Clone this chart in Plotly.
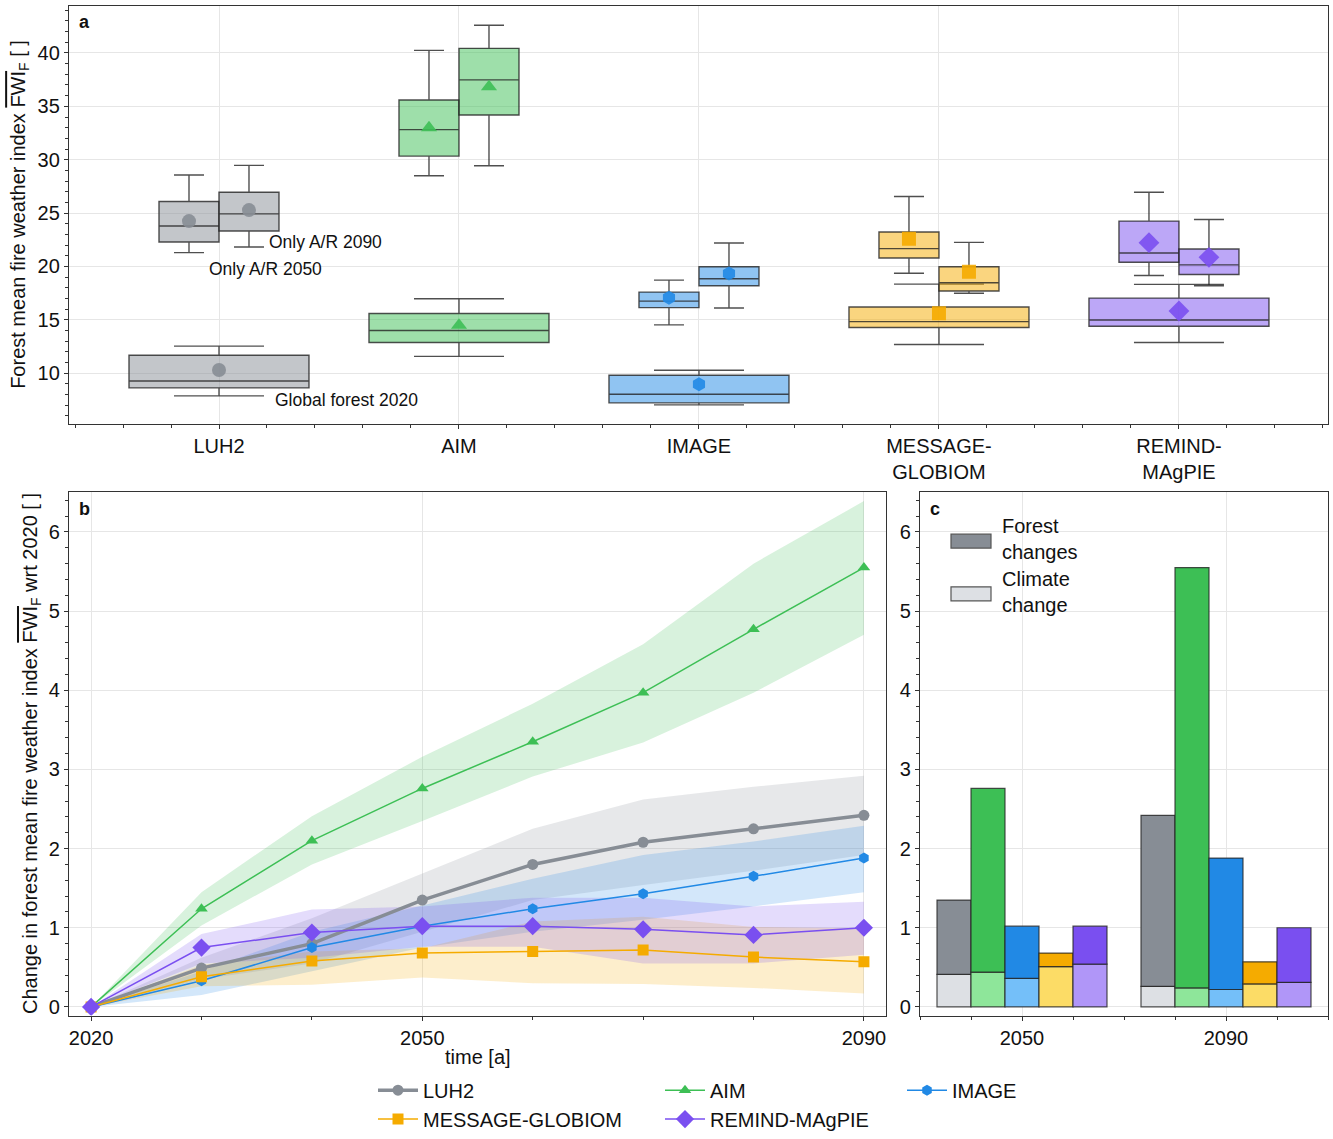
import plotly.graph_objects as go

FONT = "Liberation Sans, Arial, sans-serif"

# ---------------- data ----------------
models = ["LUH2", "AIM", "IMAGE", "MESSAGE-GLOBIOM", "REMIND-MAgPIE"]
model_ticks = ["LUH2", "AIM", "IMAGE", "MESSAGE-<br>GLOBIOM", "REMIND-<br>MAgPIE"]
colors = ["#878d95", "#3dbf55", "#2189e5", "#f5ab00", "#7a4ff0"]
light_colors = ["#dde0e4", "#8ee69a", "#74bff9", "#fcdc66", "#b096f8"]
box_fill = ["rgba(135,141,149,0.5)", "rgba(61,191,85,0.5)", "rgba(33,137,229,0.5)",
            "rgba(245,171,0,0.5)", "rgba(122,79,240,0.5)"]
band_fill = ["rgba(135,141,149,0.2)", "rgba(61,191,85,0.2)", "rgba(33,137,229,0.2)",
             "rgba(245,171,0,0.2)", "rgba(122,79,240,0.2)"]
symbols = ["circle", "triangle-up", "hexagon", "square", "diamond"]

# Panel a: box statistics per scenario (rows) and model (columns)
scenarios = ["Global forest 2020", "Only A/R 2050", "Only A/R 2090"]
lowerfence = [[7.88, 11.58, 7.04, 12.70, 12.88],
              [21.30, 28.50, 14.53, 19.37, 19.16],
              [21.83, 29.43, 16.11, 17.50, 18.20]]
q1 = [[8.63, 12.88, 7.23, 14.28, 14.40],
      [22.30, 30.34, 16.15, 20.80, 20.40],
      [23.32, 34.19, 18.20, 17.70, 19.25]]
median = [[9.28, 14.00, 8.04, 14.84, 14.99],
          [23.79, 32.82, 16.76, 21.67, 21.27],
          [24.93, 37.48, 18.85, 18.48, 20.15]]
q3 = [[11.69, 15.60, 9.81, 16.20, 17.04],
      [26.08, 35.60, 17.60, 23.23, 24.25],
      [26.95, 40.43, 19.97, 19.97, 21.64]]
upperfence = [[12.54, 16.98, 10.28, 18.35, 18.32],
              [28.57, 40.24, 18.72, 26.55, 26.95],
              [29.47, 42.60, 22.20, 22.26, 24.40]]
mean_fwi = [[10.30, 14.50, 8.97, 15.62, 15.83],
            [24.25, 33.00, 17.08, 22.60, 22.23],
            [25.28, 36.83, 19.34, 19.50, 20.86]]

# Panel b: change wrt 2020
years = [2020, 2030, 2040, 2050, 2060, 2070, 2080, 2090]
change_mean = {
    "LUH2": [0, 0.49, 0.80, 1.35, 1.80, 2.08, 2.25, 2.42],
    "AIM": [0, 1.24, 2.10, 2.76, 3.35, 3.97, 4.77, 5.55],
    "IMAGE": [0, 0.33, 0.75, 1.02, 1.24, 1.43, 1.65, 1.88],
    "MESSAGE-GLOBIOM": [0, 0.38, 0.58, 0.68, 0.70, 0.72, 0.63, 0.57],
    "REMIND-MAgPIE": [0, 0.75, 0.94, 1.02, 1.02, 0.98, 0.91, 1.00],
}
change_upper = {
    "LUH2": [0, 0.62, 1.12, 1.69, 2.25, 2.62, 2.78, 2.92],
    "AIM": [0, 1.45, 2.41, 3.16, 3.83, 4.58, 5.60, 6.39],
    "IMAGE": [0, 0.45, 0.95, 1.28, 1.62, 1.92, 2.09, 2.29],
    "MESSAGE-GLOBIOM": [0, 0.53, 0.70, 0.74, 1.08, 1.14, 1.01, 0.99],
    "REMIND-MAgPIE": [0, 0.92, 1.23, 1.27, 1.38, 1.38, 1.27, 1.33],
}
change_lower = {
    "LUH2": [0, 0.35, 0.55, 0.95, 1.35, 1.54, 1.72, 1.92],
    "AIM": [0, 1.03, 1.80, 2.35, 2.91, 3.34, 3.97, 4.70],
    "IMAGE": [0, 0.15, 0.45, 0.75, 0.95, 1.10, 1.27, 1.45],
    "MESSAGE-GLOBIOM": [0, 0.26, 0.28, 0.37, 0.30, 0.29, 0.24, 0.17],
    "REMIND-MAgPIE": [0, 0.55, 0.62, 0.76, 0.76, 0.55, 0.55, 0.66],
}

# Panel c: decomposition (climate-change part; remainder = forest changes)
bar_years = [2050, 2090]
bar_labels = ["2050", "2090"]
climate_part = {
    2050: [0.41, 0.44, 0.36, 0.51, 0.54],
    2090: [0.26, 0.24, 0.22, 0.29, 0.31],
}

# ---------------- figure ----------------
fig = go.Figure()

box_offsets = [0.0, -0.125, 0.125]
box_widths = [0.75, 0.25, 0.25]
edge = "rgba(35,35,35,0.8)"

for s in range(3):
    for i, m in enumerate(models):
        fig.add_trace(go.Box(
            x=[i + box_offsets[s]], q1=[q1[s][i]], median=[median[s][i]], q3=[q3[s][i]],
            lowerfence=[lowerfence[s][i]], upperfence=[upperfence[s][i]],
            orientation="v", width=box_widths[s], whiskerwidth=0.5,
            fillcolor=box_fill[i], line=dict(color=edge, width=1.4),
            boxpoints=False, showlegend=False, hoverinfo="skip",
            xaxis="x", yaxis="y"))
for i, m in enumerate(models):
    fig.add_trace(go.Scatter(
        x=[i + o for o in box_offsets], y=[mean_fwi[s][i] for s in range(3)],
        mode="markers", marker=dict(symbol=symbols[i], color=colors[i],
                                    size=16 if symbols[i] == "diamond" else 14,
                                    opacity=0.9),
        showlegend=False, hoverinfo="skip", xaxis="x", yaxis="y"))

# panel b bands
for i, m in enumerate(models):
    fig.add_trace(go.Scatter(
        x=years + years[::-1], y=change_upper[m] + change_lower[m][::-1],
        fill="toself", fillcolor=band_fill[i], line=dict(width=0),
        mode="lines", showlegend=False, hoverinfo="skip", xaxis="x2", yaxis="y2"))
# panel b lines
for i, m in enumerate(models):
    fig.add_trace(go.Scatter(
        x=years, y=change_mean[m], mode="lines+markers", name=m,
        line=dict(color=colors[i], width=3.5 if m == "LUH2" else 1.5),
        marker=dict(symbol=symbols[i], color=colors[i],
                    size=14 if symbols[i] == "diamond" else 11),
        legend="legend" if i < 3 else "legend2",
        legendwidth=[232, 187, 187, 232, 187][i],
        xaxis="x2", yaxis="y2"))

# panel c bars
for i, m in enumerate(models):
    clim = [climate_part[y][i] for y in bar_years]
    tot = [change_mean[m][years.index(y)] for y in bar_years]
    forest = [t - c for t, c in zip(tot, clim)]
    fig.add_trace(go.Bar(
        x=[0, 1], y=clim, offsetgroup=str(i), marker=dict(color=light_colors[i],
                                                        line=dict(color=edge, width=1.2)),
        showlegend=False, hoverinfo="skip", xaxis="x3", yaxis="y3"))
    fig.add_trace(go.Bar(
        x=[0, 1], y=forest, base=clim, offsetgroup=str(i),
        marker=dict(color=colors[i], line=dict(color=edge, width=1.2)),
        showlegend=False, hoverinfo="skip", xaxis="x3", yaxis="y3"))

W, H = 1333, 1139


def px(x):
    return x / W


def py(y):
    return 1 - y / H


axis_common = dict(
    showline=True, linecolor="#333333", linewidth=1.3, mirror=True,
    ticks="outside", ticklen=4, tickwidth=1, tickcolor="#333333",
    showgrid=True, gridcolor="#e6e6e6", gridwidth=1, zeroline=False,
    tickfont=dict(size=20, color="#111111", family=FONT),
)
minor_common = dict(ticks="outside", ticklen=3, tickcolor="#333333", showgrid=False)

fig.update_layout(
    width=W, height=H, margin=dict(l=0, r=0, t=0, b=0),
    paper_bgcolor="white", plot_bgcolor="white",
    font=dict(family=FONT, size=20, color="#111111"),
    barmode="group", bargap=1 / 6, bargroupgap=0,
    xaxis=dict(domain=[px(69), px(1328)], anchor="y", range=[-0.625, 4.621],
               tickvals=list(range(5)), ticktext=model_ticks,
               minor=dict(dtick=0.2, tick0=0, **minor_common), **axis_common),
    yaxis=dict(domain=[py(426), py(6)], anchor="x", range=[5.27, 44.4],
               tick0=0, dtick=5, minor=dict(dtick=1, **minor_common), **axis_common),
    xaxis2=dict(domain=[px(69), px(886)], anchor="y2", range=[2018, 2092],
                tickvals=[2020, 2050, 2090],
                minor=dict(tickmode="array", tickvals=[2030, 2040, 2060, 2070, 2080], **minor_common),
                **axis_common),
    yaxis2=dict(domain=[py(1021), py(495)], anchor="x2", range=[-0.11, 6.5],
                tick0=0, dtick=1, minor=dict(dtick=0.2, **minor_common), **axis_common),
    xaxis3=dict(domain=[px(920), px(1328)], anchor="y3", range=[-0.5, 1.5],
                tickvals=[0, 1], ticktext=bar_labels,
                minor=dict(dtick=0.25, tick0=0, **minor_common), **axis_common),
    yaxis3=dict(domain=[py(1021), py(495)], anchor="x3", range=[-0.11, 6.5],
                tick0=0, dtick=1, minor=dict(dtick=0.2, **minor_common), **axis_common),
    legend=dict(orientation="h", x=px(373), y=py(1096), yanchor="middle", xanchor="left",
                font=dict(size=20, family=FONT), bgcolor="rgba(0,0,0,0)", itemwidth=40),
    legend2=dict(orientation="h", x=px(373), y=py(1125), yanchor="middle", xanchor="left",
                 font=dict(size=20, family=FONT), bgcolor="rgba(0,0,0,0)", itemwidth=40),
)

ov = '<span style="text-decoration:overline">FWI</span><sub>F</sub>'
annotations = [
    dict(text="<b>a</b>", x=px(77), y=py(22), xref="paper", yref="paper",
         xanchor="left", yanchor="middle", showarrow=False, font=dict(size=18)),
    dict(text="<b>b</b>", x=px(77), y=py(512), xref="paper", yref="paper",
         xanchor="left", yanchor="middle", showarrow=False, font=dict(size=18)),
    dict(text="<b>c</b>", x=px(928), y=py(512), xref="paper", yref="paper",
         xanchor="left", yanchor="middle", showarrow=False, font=dict(size=18)),
    dict(text="Forest mean fire weather index " + ov + " [ ]", textangle=-90,
         x=px(20), y=py(216), xref="paper", yref="paper", xanchor="center", yanchor="middle",
         showarrow=False, font=dict(size=20)),
    dict(text="Change in forest mean fire weather index " + ov + " wrt 2020 [ ]", textangle=-90,
         x=px(31), y=py(758), xref="paper", yref="paper", xanchor="center", yanchor="middle",
         showarrow=False, font=dict(size=20)),
    dict(text="time [a]", x=px(478), y=py(1063), xref="paper", yref="paper",
         xanchor="center", yanchor="middle", showarrow=False, font=dict(size=20)),
    dict(text=scenarios[2], x=0.2, y=22.3, xref="x", yref="y", xanchor="left",
         yanchor="middle", showarrow=False, font=dict(size=17.5)),
    dict(text=scenarios[1], x=-0.05, y=19.76, xref="x", yref="y", xanchor="left",
         yanchor="middle", showarrow=False, font=dict(size=17.5)),
    dict(text=scenarios[0], x=0.225, y=7.5, xref="x", yref="y", xanchor="left",
         yanchor="middle", showarrow=False, font=dict(size=17.5)),
    dict(text="Forest<br>changes", x=px(1000), y=py(542), xref="paper", yref="paper",
         xanchor="left", yanchor="middle", align="left", showarrow=False, font=dict(size=20)),
    dict(text="Climate<br>change", x=px(1000), y=py(595), xref="paper", yref="paper",
         xanchor="left", yanchor="middle", align="left", showarrow=False, font=dict(size=20)),
]
fig.update_layout(annotations=annotations)

shapes = [
    dict(type="rect", xref="paper", yref="paper", x0=px(951), x1=px(991), y0=py(551), y1=py(537),
         fillcolor=colors[0], line=dict(color="#555555", width=1.2)),
    dict(type="rect", xref="paper", yref="paper", x0=px(951), x1=px(991), y0=py(604), y1=py(590),
         fillcolor=light_colors[0], line=dict(color="#555555", width=1.2)),
]
fig.update_layout(shapes=shapes)

post = ("document.documentElement.style.margin='0';"
        "document.documentElement.style.overflow='hidden';"
        "document.body.style.margin='0';"
        "document.body.style.padding='0';"
        "document.body.style.overflow='hidden';"
        "document.body.style.height='1139px';")
fig.write_html("out.html", post_script=post, config={"displayModeBar": False})
